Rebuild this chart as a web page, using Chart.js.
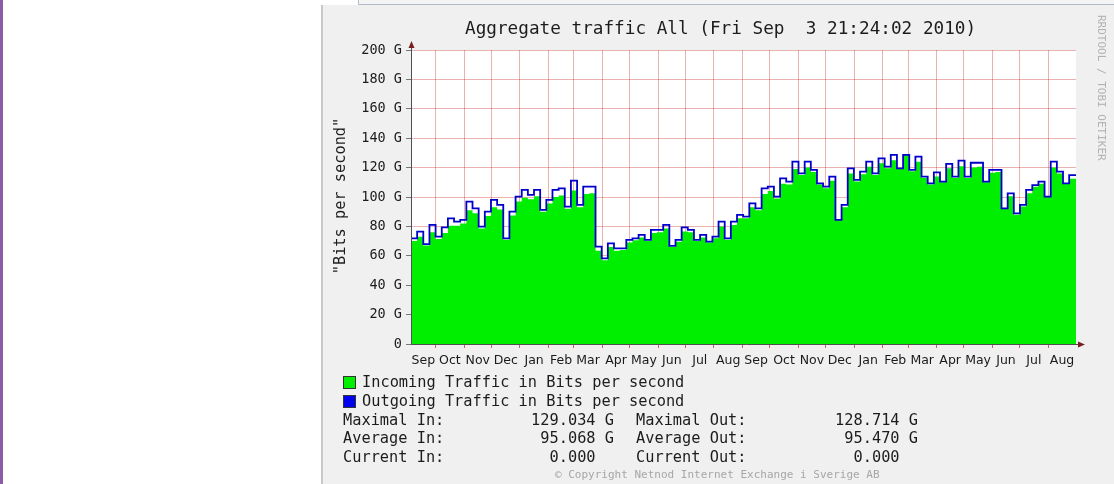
<!DOCTYPE html>
<html>
<head>
<meta charset="utf-8">
<script src="https://cdn.jsdelivr.net/npm/chart.js@4/dist/chart.umd.min.js"></script>
<style>
  html, body { margin: 0; padding: 0; background: #fff; }
  body { width: 1114px; height: 484px; position: relative; overflow: hidden; font-family: "DejaVu Sans Mono", monospace; color: #1c1c1c; }
  .abs { position: absolute; white-space: pre; }
  #strip { left: 0; top: 0; width: 3px; height: 484px; background: #8a5ca8; }
  #topbox { left: 358px; top: -2px; width: 770px; height: 5px; background: #f4f4f4; border: 1px solid #b4bccb; }
  #panel { left: 321px; top: 5px; width: 793px; height: 479px; background: #f0f0f0; border-left: 2px solid #c8c8c8; box-sizing: border-box; }
  #chartWrap { left: 321px; top: 5px; width: 793px; height: 479px; }
  .mono { font-family: "DejaVu Sans Mono", monospace; font-size: 15.3px; line-height: 18px; height: 18px; }
  .box { width: 11px; height: 11px; border: 1px solid #333; }
  .val { text-align: right; }
</style>
</head>
<body>
<div id="strip" class="abs"></div>
<div id="topbox" class="abs"></div>
<div id="panel" class="abs"></div>
<div id="chartWrap" class="abs"><canvas id="traffic" width="793" height="479"></canvas></div>

<div class="abs" style="left:465px;top:17px;font-size:17.7px;line-height:22px;">Aggregate traffic All (Fri Sep  3 21:24:02 2010)</div>
<div class="abs mono" style="left:240px;top:187px;width:200px;text-align:center;transform:rotate(-90deg);">"Bits per second"</div>
<div class="abs" style="left:1107px;top:15px;font-size:11px;line-height:12px;color:#b2b2b2;transform-origin:0 0;transform:rotate(90deg);">RRDTOOL / TOBI OETIKER</div>

<div class="abs box" style="left:343px;top:376px;background:#00ee00;"></div>
<div class="abs mono" style="left:362px;top:373px;">Incoming Traffic in Bits per second</div>
<div class="abs box" style="left:343px;top:395px;background:#0000ee;"></div>
<div class="abs mono" style="left:362px;top:392px;">Outgoing Traffic in Bits per second</div>

<div class="abs mono" style="left:343px;top:411px;">Maximal In:</div>
<div class="abs mono val" style="left:480px;width:134px;top:411px;">129.034 G</div>
<div class="abs mono" style="left:636px;top:411px;">Maximal Out:</div>
<div class="abs mono val" style="left:784px;width:134px;top:411px;">128.714 G</div>

<div class="abs mono" style="left:343px;top:429px;">Average In:</div>
<div class="abs mono val" style="left:480px;width:134px;top:429px;">95.068 G</div>
<div class="abs mono" style="left:636px;top:429px;">Average Out:</div>
<div class="abs mono val" style="left:784px;width:134px;top:429px;">95.470 G</div>

<div class="abs mono" style="left:343px;top:448px;">Current In:</div>
<div class="abs mono val" style="left:480px;width:134px;top:448px;">0.000  </div>
<div class="abs mono" style="left:636px;top:448px;">Current Out:</div>
<div class="abs mono val" style="left:784px;width:134px;top:448px;">0.000  </div>

<div class="abs" style="left:555px;top:468px;font-size:11px;line-height:14px;color:#a6a6a6;">© Copyright Netnod Internet Exchange i Sverige AB</div>

<script>
// samples roughly every week over two years, values in G (bits per second)
const startDate = Date.UTC(2008, 8, 4);
const endDate = Date.UTC(2010, 7, 31, 12);
const stepDays = 6.72;

const monthLabels = ['Sep', 'Oct', 'Nov', 'Dec', 'Jan', 'Feb', 'Mar', 'Apr', 'May', 'Jun', 'Jul', 'Aug',
                     'Sep', 'Oct', 'Nov', 'Dec', 'Jan', 'Feb', 'Mar', 'Apr', 'May', 'Jun', 'Jul', 'Aug'];

const incoming = [
  70.5, 70.0, 73.0, 67.0, 76.0, 71.5, 75.5, 80.5, 80.5, 82.0,
  91.0, 89.0, 78.5, 87.0, 93.0, 91.5, 71.0, 87.5, 97.0, 99.5,
  98.5, 100.5, 90.0, 95.5, 100.0, 101.0, 92.0, 104.5, 93.0, 102.0,
  102.5, 63.5, 57.0, 66.0, 63.5, 64.0, 69.0, 70.5, 72.5, 70.0,
  75.5, 76.0, 78.5, 66.0, 69.5, 76.5, 76.0, 70.0, 72.5, 69.0,
  72.0, 80.0, 71.0, 81.0, 85.5, 85.5, 93.0, 91.0, 102.0, 104.0,
  99.0, 109.0, 108.5, 119.0, 115.0, 120.0, 117.0, 108.5, 106.0, 111.0,
  85.0, 93.0, 116.0, 110.5, 115.5, 120.5, 115.0, 123.0, 119.5, 125.0,
  119.0, 129.0, 117.5, 124.0, 113.0, 108.5, 114.0, 110.0, 119.5, 113.0,
  121.0, 113.0, 120.0, 120.5, 110.0, 116.5, 117.0, 92.5, 100.5, 88.0,
  93.5, 102.5, 107.0, 109.0, 100.0, 120.0, 116.0, 109.0, 112.5
];

const outgoing = [
  78.7, 71.9, 76.4, 68.0, 81.0, 73.0, 79.4, 85.5, 83.2, 84.4,
  96.8, 92.3, 79.8, 90.0, 98.0, 94.6, 71.9, 90.0, 100.2, 104.8,
  101.4, 104.8, 91.2, 98.0, 104.8, 105.9, 93.4, 111.1, 94.6, 107.0,
  107.0, 66.2, 58.3, 68.5, 65.1, 65.1, 70.8, 71.9, 74.2, 70.8,
  77.6, 77.6, 81.0, 66.7, 70.8, 79.4, 77.6, 70.8, 74.2, 69.6,
  73.0, 83.2, 71.9, 83.2, 87.8, 86.6, 95.7, 92.3, 105.9, 107.0,
  100.2, 112.7, 110.4, 124.1, 116.1, 124.1, 118.4, 109.3, 107.0, 113.8,
  84.4, 94.6, 119.5, 111.6, 117.2, 124.1, 116.1, 126.3, 120.6, 128.6,
  119.5, 128.7, 118.4, 127.5, 113.8, 109.3, 116.8, 110.4, 122.5, 113.8,
  124.7, 113.8, 123.3, 123.3, 110.4, 118.4, 118.4, 92.3, 102.5, 88.9,
  94.6, 104.8, 108.1, 110.4, 100.2, 124.1, 117.2, 109.3, 114.9
];

const DAY = 86400000;
const totalDays = (endDate - startDate) / DAY;

// grid at the first of each month, labels in the middle of each month
const gridDays = [];
for (let k = 1; k < monthLabels.length; k++) {
  gridDays.push((Date.UTC(2008, 8 + k, 1) - startDate) / DAY);
}
const bounds = [0, ...gridDays, totalDays];
const labelDays = monthLabels.map((m, k) => (bounds[k] + bounds[k + 1]) / 2);

function toPoints(arr) {
  const pts = arr.map((v, i) => ({ x: i * stepDays, y: v }));
  pts.push({ x: totalDays, y: arr[arr.length - 1] });
  return pts;
}

const gridRed = 'rgba(190, 0, 0, 0.3)';

const plotBack = {
  id: 'plotBack',
  beforeDraw(chart) {
    const { ctx, chartArea: a } = chart;
    ctx.save();
    ctx.fillStyle = '#ffffff';
    ctx.fillRect(a.left, a.top, a.right - a.left, a.bottom - a.top);
    ctx.restore();
  }
};

const axisArrows = {
  id: 'axisArrows',
  afterDraw(chart) {
    const { ctx, chartArea: a } = chart;
    ctx.save();
    ctx.strokeStyle = '#505050';
    ctx.lineWidth = 1;
    ctx.beginPath();
    ctx.moveTo(a.left + 0.5, a.bottom + 0.5);
    ctx.lineTo(a.left + 0.5, a.top - 6);
    ctx.moveTo(a.left, a.bottom + 0.5);
    ctx.lineTo(a.right + 6, a.bottom + 0.5);
    ctx.stroke();
    ctx.fillStyle = '#7a1f1f';
    ctx.beginPath();
    ctx.moveTo(a.left + 0.5, a.top - 9);
    ctx.lineTo(a.left - 2.5, a.top - 2);
    ctx.lineTo(a.left + 3.5, a.top - 2);
    ctx.closePath();
    ctx.fill();
    ctx.beginPath();
    ctx.moveTo(a.right + 9, a.bottom + 0.5);
    ctx.lineTo(a.right + 2, a.bottom - 2.5);
    ctx.lineTo(a.right + 2, a.bottom + 3.5);
    ctx.closePath();
    ctx.fill();
    ctx.restore();
  }
};

new Chart(document.getElementById('traffic'), {
  type: 'line',
  data: {
    datasets: [
      {
        label: 'Outgoing Traffic in Bits per second',
        data: toPoints(outgoing),
        stepped: 'after',
        borderColor: '#0000cc',
        borderWidth: 1.8,
        pointRadius: 0,
        fill: false,
        order: 1
      },
      {
        label: 'Incoming Traffic in Bits per second',
        data: toPoints(incoming),
        stepped: 'after',
        borderWidth: 0,
        borderColor: 'rgba(0,0,0,0)',
        backgroundColor: '#00ee00',
        pointRadius: 0,
        fill: 'origin',
        order: 2
      }
    ]
  },
  options: {
    responsive: false,
    animation: false,
    events: [],
    layout: { padding: { top: 45, right: 38, left: 0, bottom: 0 } },
    plugins: { legend: { display: false }, tooltip: { enabled: false }, title: { display: false } },
    scales: {
      x: {
        type: 'linear',
        position: 'bottom',
        min: 0,
        max: totalDays,
        z: 1,
        afterBuildTicks: s => { s.ticks = gridDays.map(v => ({ value: v })); },
        afterFit: s => { s.height = 0; },
        ticks: { display: false },
        grid: { color: gridRed, tickColor: '#d06060', tickLength: 4, drawTicks: true },
        border: { display: false }
      },
      xl: {
        type: 'linear',
        position: 'bottom',
        min: 0,
        max: totalDays,
        afterBuildTicks: s => { s.ticks = labelDays.map(v => ({ value: v })); },
        afterFit: s => { s.height = 140; },
        grid: { display: false, drawTicks: false },
        border: { display: false },
        ticks: {
          autoSkip: false,
          maxRotation: 0,
          padding: 9,
          color: '#1a1a1a',
          font: { family: 'DejaVu Sans', size: 12.5 },
          callback: (v, i) => monthLabels[i]
        }
      },
      y: {
        min: 0,
        max: 200,
        z: 1,
        afterFit: s => { s.width = 90; },
        ticks: {
          stepSize: 10,
          padding: 4,
          color: '#1c1c1c',
          font: { family: 'DejaVu Sans Mono', size: 13.5 },
          callback: v => (v % 20 ? '' : (v === 0 ? '0' : v + ' G'))
        },
        grid: { color: gridRed, tickColor: '#777', tickLength: 5 },
        border: { display: false }
      }
    }
  },
  plugins: [plotBack, axisArrows]
});
</script>
</body>
</html>
